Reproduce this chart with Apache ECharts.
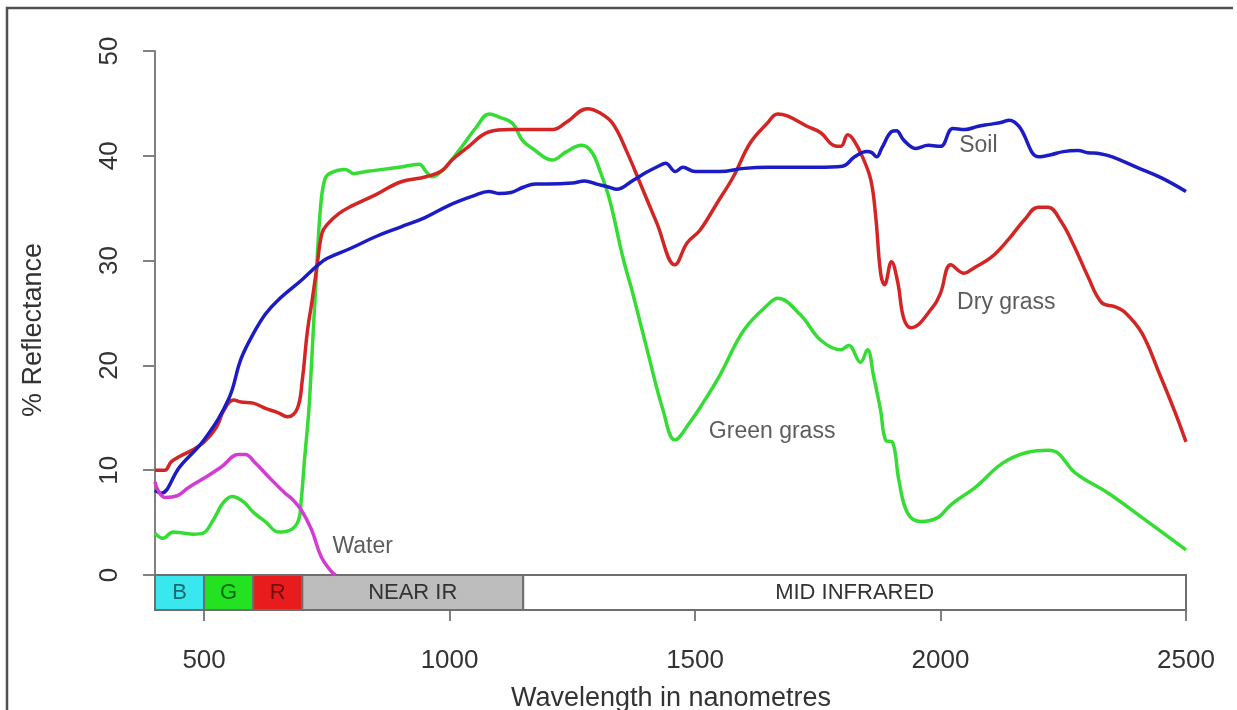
<!DOCTYPE html>
<html><head><meta charset="utf-8">
<script src="https://cdn.jsdelivr.net/npm/echarts@6/dist/echarts.min.js"></script>
<style>html,body{margin:0;padding:0;background:#fff}#c{width:1237px;height:710px}</style>
</head><body><div id="c"></div>
<script>
// ---- data ----
const soilWl  = [400,412,450,500,550,575,600,625,650,700,730,750,800,850,900,950,1000,1050,1080,1100,1125,1150,1175,1200,1250,1275,1300,1325,1340,1375,1400,1425,1440,1460,1475,1500,1550,1600,1650,1700,1750,1800,1825,1850,1860,1870,1880,1900,1910,1925,1950,1975,2000,2025,2050,2075,2100,2125,2140,2160,2200,2225,2250,2280,2300,2325,2350,2400,2450,2500];
const soilVal = [8.1,7.8,10.3,12.9,16.8,20.6,23.0,24.9,26.2,28.2,29.5,30.2,31.2,32.3,33.2,34.1,35.3,36.2,36.6,36.4,36.5,37.0,37.3,37.3,37.4,37.6,37.3,37.0,36.8,37.7,38.4,39.0,39.3,38.5,38.9,38.5,38.5,38.8,38.9,38.9,38.9,39.0,39.9,40.4,40.3,39.9,40.7,42.3,42.4,41.5,40.7,41.0,40.9,42.6,42.5,42.8,43.0,43.2,43.4,42.8,39.9,40.1,40.4,40.5,40.3,40.2,39.9,38.9,37.9,36.6];

const dryWl  = [400,420,433,450,475,500,525,540,560,575,600,625,650,670,690,700,710,720,730,740,750,775,800,850,900,952,985,1005,1034,1081,1122,1210,1238,1281,1306,1332,1361,1388,1422,1459,1484,1510,1545,1578,1612,1647,1668,1688,1729,1756,1782,1797,1811,1823,1841,1858,1868,1878,1886,1900,1913,1925,1940,1985,2000,2021,2048,2068,2103,2138,2171,2199,2219,2246,2273,2300,2328,2355,2375,2410,2445,2478,2500];
const dryVal = [10.0,10.0,10.8,11.3,11.9,12.7,14.1,15.7,16.7,16.5,16.4,15.9,15.5,15.1,15.9,18.6,23.1,26.2,29.5,32.6,33.4,34.5,35.2,36.3,37.5,38.0,38.6,39.6,40.7,42.3,42.5,42.5,43.2,44.5,44.1,43.1,40.4,37.4,33.6,29.6,31.7,32.9,35.5,38.0,41.2,43.1,44.0,43.8,42.8,42.2,41.0,40.9,42.0,41.5,39.9,37.7,34.2,28.8,27.7,29.9,27.9,24.5,23.6,25.6,26.9,29.6,28.8,29.3,30.3,32.0,33.9,35.1,35.1,33.7,31.3,28.5,26.0,25.6,25.1,23.1,19.3,15.5,12.7];

const greenWl  = [400,416,437,457,478,498,518,539,557,580,600,627,651,676,692,698,704,713,717,729,737,745,755,788,805,829,897,938,952,964,985,1019,1054,1081,1101,1128,1148,1169,1210,1238,1269,1289,1306,1326,1353,1373,1405,1435,1459,1490,1516,1551,1600,1653,1668,1715,1756,1797,1813,1837,1851,1864,1878,1888,1903,1915,1933,1960,1995,2021,2069,2138,2220,2240,2273,2342,2410,2500];
const greenVal = [4.0,3.5,4.1,4.0,3.9,4.0,5.2,6.9,7.5,7.0,6.0,5.0,4.1,4.3,5.2,7.2,10.7,15.5,18.6,29.0,35.0,37.6,38.3,38.7,38.3,38.5,38.9,39.2,38.5,38.0,38.6,40.5,42.7,44.0,43.7,43.1,41.5,40.7,39.6,40.4,41.0,40.4,38.6,35.8,30.3,26.9,21.0,15.7,12.9,14.6,16.4,19.1,23.4,26.0,26.4,24.8,22.4,21.5,21.9,20.3,21.5,18.9,15.7,12.9,12.6,9.1,5.9,5.1,5.5,6.7,8.3,11.0,11.9,11.6,9.8,7.8,5.5,2.4];

const waterWl  = [400,406,420,447,467,502,535,570,584,604,637,665,678,698,719,739,760,768];
const waterVal = [8.9,8.1,7.4,7.6,8.3,9.3,10.3,11.5,11.5,10.7,9.1,7.8,7.3,6.2,4.3,1.7,0.3,0.0];

const yTicks = [0,10,20,30,40,50];
const xTicks = [500,1000,1500,2000,2500];

const bandNames = ['B','G','R','NEAR IR','MID INFRARED'];
const bandStart = [400,500,600,700,1150];
const bandEnd   = [500,600,700,1150,2500];

const curveLabels   = ['Soil','Dry grass','Green grass','Water'];
const curveLabelWl  = [2077,2134,1657,823];
const curveLabelVal = [41.0,26.0,13.7,2.7];

// ---- styles ----
const bandFill = ['#38e8ee','#22e222','#e81c1c','#bdbdbd','#ffffff'];
const bandText = ['rgba(0,0,0,0.55)','rgba(0,0,0,0.55)','rgba(0,0,0,0.5)','#333','#333'];
const FONT = '"Liberation Sans", Arial, Helvetica, sans-serif';
const axisGray = '#808080';

const zip = (a, b) => a.map((v, i) => [v, b[i]]);
const lineSeries = (name, wl, val, color) => ({
  name, type: 'line', xAxisIndex: 0, yAxisIndex: 0,
  data: zip(wl, val), showSymbol: false, smooth: 0.4,
  lineStyle: { color, width: 3.5 }, itemStyle: { color }, silent: true
});

const chart = echarts.init(document.getElementById('c'));
chart.setOption({
  animation: false,
  backgroundColor: '#fff',
  textStyle: { fontFamily: FONT },
  grid: [
    { left: 155, right: 51, top: 51, height: 524 },
    { left: 155, right: 51, top: 575, height: 35 }
  ],
  xAxis: [
    { gridIndex: 0, type: 'value', min: 400, max: 2500, show: false },
    { gridIndex: 1, type: 'value', min: 400, max: 2500,
      axisLine: { show: false },
      axisTick: { show: true, length: 11, customValues: xTicks, lineStyle: { color: axisGray, width: 2 } },
      axisLabel: { customValues: xTicks, formatter: v => String(v), fontSize: 26, color: '#333', margin: 38, fontFamily: FONT },
      splitLine: { show: false } }
  ],
  yAxis: [
    { gridIndex: 0, type: 'value', min: yTicks[0], max: yTicks[yTicks.length - 1], interval: 10,
      axisLine: { show: true, lineStyle: { color: axisGray, width: 2 } },
      axisTick: { show: true, length: 12, lineStyle: { color: axisGray, width: 2 } },
      axisLabel: { rotate: 90, fontSize: 26, color: '#333', margin: 32, fontFamily: FONT },
      splitLine: { show: false } },
    { gridIndex: 1, type: 'value', min: 0, max: 1, show: false }
  ],
  series: [
    lineSeries('Green grass', greenWl, greenVal, '#34dc34'),
    lineSeries('Dry grass', dryWl, dryVal, '#d42525'),
    lineSeries('Soil', soilWl, soilVal, '#1c1cc6'),
    lineSeries('Water', waterWl, waterVal, '#d23cd2'),
    {
      type: 'custom', xAxisIndex: 1, yAxisIndex: 1, silent: true,
      data: bandStart.map((s, i) => [s, bandEnd[i]]),
      encode: { x: [0, 1] },
      renderItem: function (params, api) {
        const i = params.dataIndex;
        const p0 = api.coord([api.value(0), 1]);
        const p1 = api.coord([api.value(1), 0]);
        return { type: 'group', children: [
          { type: 'rect', shape: { x: p0[0], y: p0[1], width: p1[0] - p0[0], height: p1[1] - p0[1] },
            style: { fill: bandFill[i], stroke: '#6e6e6e', lineWidth: 2 } },
          { type: 'text', x: (p0[0] + p1[0]) / 2, y: (p0[1] + p1[1]) / 2,
            style: { text: bandNames[i], fill: bandText[i], font: '22px ' + FONT, align: 'center', verticalAlign: 'middle' } }
        ]};
      }
    },
    {
      type: 'scatter', xAxisIndex: 0, yAxisIndex: 0, silent: true, symbolSize: 1,
      itemStyle: { color: 'rgba(0,0,0,0)' },
      data: curveLabels.map((n, i) => ({ name: n, value: [curveLabelWl[i], curveLabelVal[i]] })),
      label: { show: true, position: 'inside', formatter: '{b}', fontSize: 23, color: '#333', fontFamily: FONT }
    }
  ],
  graphic: [
    { type: 'polyline', shape: { points: [[7, 712], [7, 8], [1233, 8]] }, style: { stroke: '#505050', lineWidth: 2.5, fill: null }, silent: true },
    { type: 'text', x: 34, y: 330, rotation: Math.PI / 2,
      style: { text: '% Reflectance', font: '27px ' + FONT, fill: '#333', align: 'center', verticalAlign: 'middle' } },
    { type: 'text', x: 671, y: 685,
      style: { text: 'Wavelength in nanometres', font: '27px ' + FONT, fill: '#333', align: 'center', verticalAlign: 'top' } }
  ]
});
</script>
</body></html>
